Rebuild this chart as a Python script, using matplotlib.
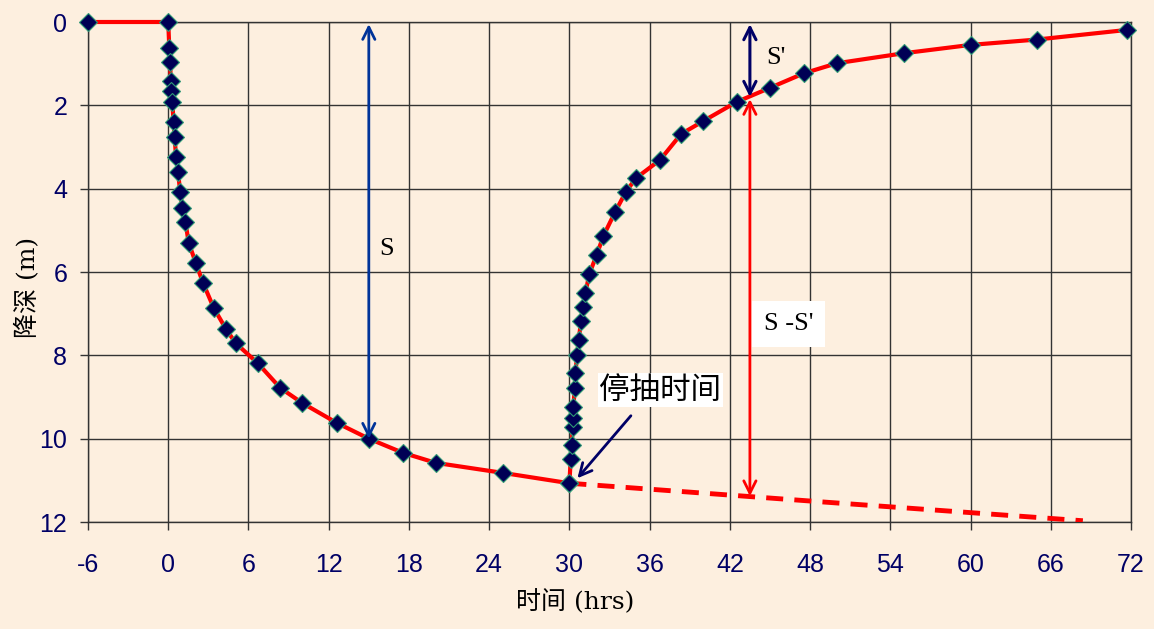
import matplotlib
matplotlib.use("Agg")
import matplotlib.pyplot as plt

plt.rcParams["axes.unicode_minus"] = False

# ---- data ----
pump_t = [-6, 0, 0.08, 0.15, 0.18, 0.23, 0.3, 0.4, 0.48, 0.58, 0.73, 0.9, 1.05, 1.28,
          1.53, 2.06, 2.6, 3.4, 4.3, 5.05, 6.7, 8.37, 10.0, 12.6, 15.0, 17.56, 20.0, 25.0, 30.0]
pump_s = [0, 0, 0.62, 0.96, 1.42, 1.66, 1.91, 2.4, 2.76, 3.23, 3.6, 4.09, 4.46, 4.79,
          5.3, 5.78, 6.26, 6.86, 7.36, 7.71, 8.19, 8.78, 9.14, 9.62, 10.0, 10.34, 10.58, 10.82, 11.07]

recov_t = [30.0, 30.1, 30.18, 30.25, 30.3, 30.3, 30.4, 30.45, 30.58, 30.7, 30.87, 31.0,
           31.2, 31.5, 32.05, 32.55, 33.42, 34.2, 34.97, 36.78, 38.35, 40.0, 42.5, 45.0,
           47.55, 50.0, 55.0, 60.0, 65.0, 71.7]
recov_s = [11.07, 10.49, 10.14, 9.71, 9.5, 9.25, 8.78, 8.43, 7.98, 7.62, 7.18, 6.84,
           6.5, 6.04, 5.58, 5.13, 4.56, 4.09, 3.75, 3.31, 2.69, 2.38, 1.92, 1.58,
           1.23, 0.99, 0.75, 0.55, 0.42, 0.19]

ext_t = [30.0, 49.0, 68.4]
ext_s = [11.07, 11.52, 11.97]

x_ticks = [-6, 0, 6, 12, 18, 24, 30, 36, 42, 48, 54, 60, 66, 72]
y_ticks = [0, 2, 4, 6, 8, 10, 12]

# ---- style ----
BG = "#FDEFDF"
RED = "#FF0000"
NAVY = "#000066"
BLUE = "#003399"
GRID = "#333333"
CJK = ["DejaVu Serif", "Noto Sans CJK SC"]
SERIF = "Liberation Serif"

fig = plt.figure(figsize=(11.54, 6.29), dpi=100, facecolor=BG)
ax = fig.add_axes([88 / 1154, 1 - 522 / 629, (1131 - 88) / 1154, (522 - 22) / 629])
ax.set_facecolor(BG)

ax.set_xlim(-6, 72)
ax.set_ylim(12, 0)
ax.set_xticks(x_ticks)
ax.set_yticks(y_ticks)
ax.grid(True, color=GRID, lw=1.0)
ax.set_axisbelow(True)
for sp in ax.spines.values():
    sp.set_color(GRID)
    sp.set_linewidth(1.0)

ax.tick_params(axis="both", colors=GRID, length=6, width=1.0, direction="out")
ax.tick_params(axis="x", labelsize=18, labelcolor=NAVY, pad=16)
ax.tick_params(axis="y", labelsize=18, labelcolor=NAVY, pad=9)
for lab in ax.get_xticklabels() + ax.get_yticklabels():
    lab.set_fontfamily("Liberation Sans")

# extrapolated dashed line
ax.plot(ext_t, ext_s, color=RED, lw=3.5, ls=(0, (3.5, 2.3)), zorder=3)

mk = dict(marker="D", markersize=9, markerfacecolor="#000055",
          markeredgecolor="#2f9a75", markeredgewidth=0.8)
ax.plot(pump_t, pump_s, color=RED, lw=3, zorder=4, clip_on=False, **mk)
ax.plot(recov_t, recov_s, color=RED, lw=3, zorder=4, clip_on=False, **mk)

# s arrow
ax.annotate("", xy=(15, 0.05), xytext=(15, 10.0),
            arrowprops=dict(arrowstyle="<->", color=BLUE, lw=2, mutation_scale=22,
                            shrinkA=0, shrinkB=0), zorder=5)
ax.text(16.3, 5.45, "S", fontsize=19, family=SERIF, color="black",
        ha="center", va="center", zorder=6)

# s' arrow
ax.annotate("", xy=(43.5, 0.05), xytext=(43.5, 1.8),
            arrowprops=dict(arrowstyle="<->", color=NAVY, lw=2.2, mutation_scale=22,
                            shrinkA=0, shrinkB=0), zorder=5)
ax.text(45.45, 0.86, "S'", fontsize=19, family=SERIF, color="black",
        ha="center", va="center", zorder=6)

# s - s' arrow
ax.annotate("", xy=(43.5, 1.85), xytext=(43.5, 11.38),
            arrowprops=dict(arrowstyle="<->", color=RED, lw=2, mutation_scale=22,
                            shrinkA=0, shrinkB=0), zorder=5)
ax.text(46.4, 7.25, "S -S'", fontsize=19, family=SERIF, color="black",
        ha="center", va="center", zorder=6,
        bbox=dict(boxstyle="square,pad=0.45", facecolor="white", edgecolor="none"))

# stop-pumping annotation
ax.annotate("", xy=(30.6, 10.95), xytext=(34.6, 9.45),
            arrowprops=dict(arrowstyle="->", color=NAVY, lw=2, mutation_scale=22,
                            shrinkA=0, shrinkB=0), zorder=5)
ax.text(36.8, 8.83, "停抽时间", fontsize=22, family=["Noto Sans CJK SC", "DejaVu Sans"],
        color="black", ha="center", va="center", zorder=6,
        bbox=dict(boxstyle="square,pad=0.05", facecolor="white", edgecolor="none"))

ax.set_xlabel("时间 (hrs)", fontsize=18, family=CJK, color="black")
ax.set_ylabel("降深 (m)", fontsize=18, family=CJK, color="black")
ax.xaxis.set_label_coords((575 - 88) / 1043, -(602 - 522) / 500)
ax.yaxis.set_label_coords(-(88 - 27) / 1043, (522 - 287) / 500)
ax.xaxis.label.set_va("center")
ax.yaxis.label.set_va("center")

fig.savefig("out.png", dpi=100, facecolor=BG)
